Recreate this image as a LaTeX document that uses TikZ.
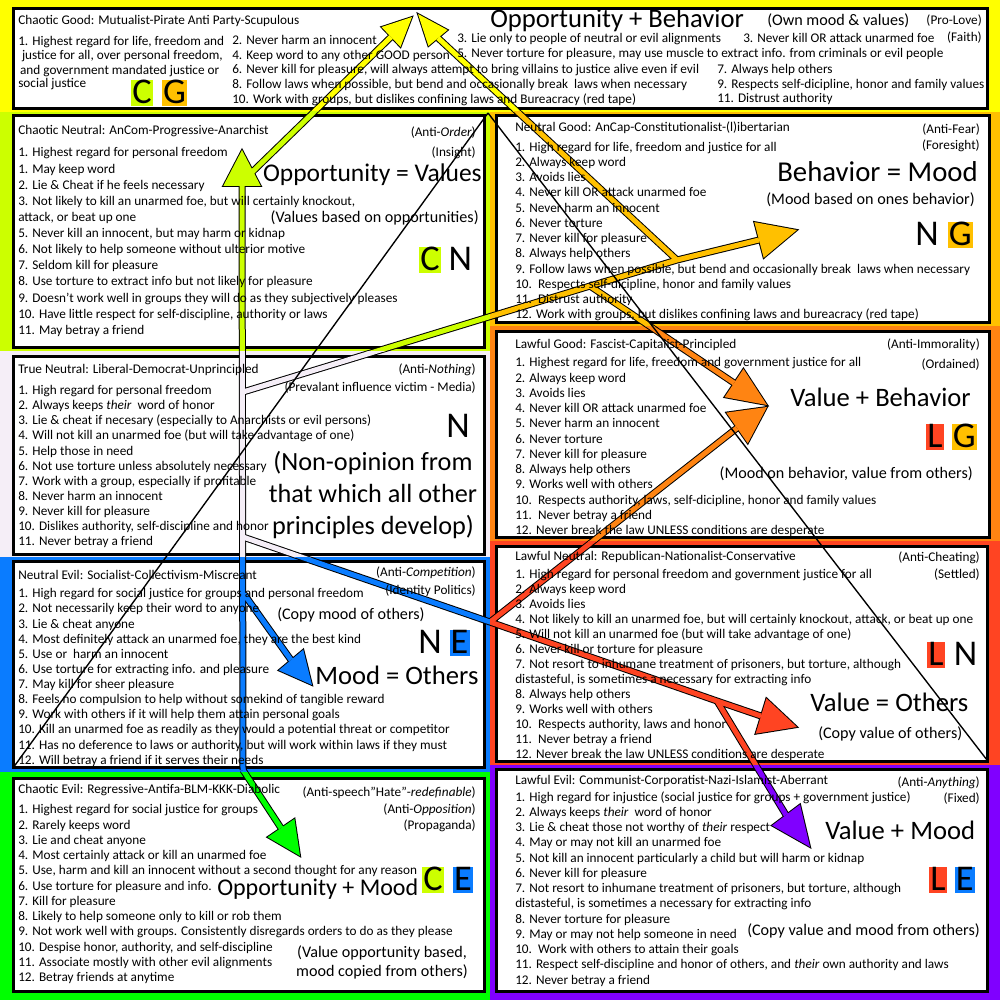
\documentclass[tikz,border=0pt]{standalone}
\usepackage{fontspec}
\setmainfont{Carlito}
\usetikzlibrary{positioning, calc}

\definecolor{cYel}{HTML}{FFFF00}
\definecolor{cLime}{HTML}{CCFF00}
\definecolor{cPale}{HTML}{F5EEF7}
\definecolor{cBlue}{HTML}{0A7CFF}
\definecolor{cGreen}{HTML}{00FF00}
\definecolor{cGold}{HTML}{FFC000}
\definecolor{cOrange}{HTML}{FF8412}
\definecolor{cRed}{HTML}{FF4422}
\definecolor{cPurple}{HTML}{8000FF}

\tikzset{
  card/.style={draw=black, line width=2.4pt, fill=white},
  itemtxt/.style={font=\fontsize{10.6}{12.2}\selectfont, align=left, inner sep=0pt},
  sidetxt/.style={font=\fontsize{10.6}{12.2}\selectfont, inner sep=0pt, anchor=east},
  bigtxt/.style={font=\fontsize{21.3}{25}\selectfont, inner sep=0pt},
  midtxt/.style={font=\fontsize{12.9}{15.2}\selectfont, inner sep=0pt},
  lettxt/.style={font=\fontsize{29}{30}\selectfont, inner sep=0pt, inner xsep=0.9pt, text height=19.5pt, text depth=2pt},
}

% arrow head: tip, base centre, half width, style
\newcommand{\headfill}[4]{\path[#4] (#1) -- ($(#2)!#3!90:(#1)$) -- ($(#2)!#3!-90:(#1)$) -- cycle;}

% all fat arrows, shaft style #1, head style #2
\newcommand{\arrowlayer}[2]{%
  \draw[#1] (spineBot) -- (cnBase);
  \draw[#1] (cgJ) -- (cgLBase);
  \draw[#1] (ngJa) -- (lgJa) -- (ngJb) -- (ngBase);
  \draw[#1] (ngJb) -- (cgRBase);
  \draw[#1] (lgJa) -- (lgUBase);
  \draw[#1] (lnJa) -- (lgJb) -- (leJ) -- (lnBase);
  \draw[#1] (lgJb) -- (lgLBase);
  \draw[#1] (leJ) -- (leBase);
  \draw[#1] (neJ) -- (neBase);
  \draw[#1] (spineBot) -- (ceBase);
  \headfill{cnTip}{cnBase}{15pt}{#2}
  \headfill{cgLTip}{cgLBase}{11pt}{#2}
  \headfill{cgRTip}{cgRBase}{10pt}{#2}
  \headfill{ngTip}{ngBase}{14.8pt}{#2}
  \headfill{lgUTip}{lgUBase}{13.6pt}{#2}
  \headfill{lgLTip}{lgLBase}{15pt}{#2}
  \headfill{lnTip}{lnBase}{14.8pt}{#2}
  \headfill{leTip}{leBase}{14pt}{#2}
  \headfill{neTip}{neBase}{12.8pt}{#2}
  \headfill{ceTip}{ceBase}{13pt}{#2}
}

\def\regionlist{0/0/1000/112/cYel, 0/112/490/351/cLime, 0/351/490/557/cPale,
  0/557/490/772/cBlue, 0/772/490/1000/cGreen, 490/112/1000/326/cGold,
  490/326/1000/541/cOrange, 490/541/1000/765/cRed, 490/765/1000/1000/cPurple}

\begin{document}
\begin{tikzpicture}[x=0.8pt, y=-0.8pt]
\useasboundingbox (0,0) rectangle (1000,1000);

% background bands
\foreach \xa/\ya/\xb/\yb/\col in \regionlist {
  \fill[\col] (\xa,\ya) rectangle (\xb,\yb);
}

% boxes
\draw[card] (13,9) rectangle (987,109);
\draw[card] (13,116) rectangle (484,347);
\draw[card] (13,356) rectangle (484,554);
\draw[card] (13,561) rectangle (484,767);
\draw[card] (13,778) rectangle (484,991);
\draw[card] (496,116) rectangle (989,322);
\draw[card] (496,331) rectangle (989,537);
\draw[card] (496,546) rectangle (987,761);
\draw[card] (496,769) rectangle (987,991);

% arrow points
\coordinate (spineBot) at (243,770);
\coordinate (cnBase) at (242,186);
\coordinate (cnTip) at (242,150);
\coordinate (cgJ) at (244,180);
\coordinate (cgLBase) at (391,37);
\coordinate (cgLTip) at (412,17);
\coordinate (ngJa) at (243,392);
\coordinate (lgJa) at (590,286);
\coordinate (ngJb) at (677,260);
\coordinate (ngBase) at (759,240);
\coordinate (ngTip) at (797,230);
\coordinate (cgRBase) at (438,38);
\coordinate (cgRTip) at (418,14);
\coordinate (lgUBase) at (734,383);
\coordinate (lgUTip) at (767,405);
\coordinate (lnJa) at (243,537);
\coordinate (lgJb) at (490,622);
\coordinate (leJ) at (717,701);
\coordinate (lnBase) at (761,716);
\coordinate (lnTip) at (797,727);
\coordinate (lgLBase) at (737,428);
\coordinate (lgLTip) at (767,407);
\coordinate (leBase) at (786,815);
\coordinate (leTip) at (810,847);
\coordinate (neJ) at (244,594);
\coordinate (neBase) at (291,660);
\coordinate (neTip) at (312,685);
\coordinate (ceBase) at (281,828);
\coordinate (ceTip) at (300,856);
\coordinate (apex) at (488,113);
\coordinate (lineL) at (13,768);
\coordinate (lineR) at (987,760);

% fat arrows: black outline, then each band's colour
\arrowlayer{line width=5.6pt, draw=black}{fill=black, draw=black, line width=1.6pt}
\foreach \xa/\ya/\xb/\yb/\col in \regionlist {
  \begin{scope}
    \clip (\xa,\ya) rectangle (\xb,\yb);
    \arrowlayer{line width=4pt, draw=\col}{fill=\col}
  \end{scope}
}

% thin diagonals
\draw[line width=1.1pt] (apex) -- (lineL);
\draw[line width=1.1pt] (apex) -- (lineR);

% Chaotic Good
\node[itemtxt, anchor=west] (cgT) at (18,21) {Chaotic Good: Mutualist-Pirate Anti Party-Scupulous};
\node[itemtxt, font=\fontsize{10.6}{11.5}\selectfont, anchor=north west] (cgA) at (18,36)
  {1. Highest regard for life, freedom and\\\hspace{3pt}justice for all, over personal freedom,\\\hspace{1.5pt}and government mandated justice or};
\node[itemtxt, anchor=west] (cgA2) at (18,84) {social justice};
\node[itemtxt, font=\fontsize{10.6}{11.8}\selectfont, anchor=north west] (cgB) at (232,35)
  {2. Never harm an innocent\\4. Keep word to any other GOOD person\\6. Never kill for pleasure, will always attempt to bring villains to justice alive even if evil\\8. Follow laws when possible, but bend and occasionally break\ \ laws when necessary\\10. Work with groups, but dislikes confining laws and Bureacracy (red tape)};
\node[itemtxt, font=\fontsize{10.6}{11.8}\selectfont, anchor=north west] (cgC) at (457,33)
  {3. Lie only to people of neutral or evil alignments\\5. Never torture for pleasure, may use muscle to extract info. from criminals or evil people};
\node[itemtxt, anchor=west] (cgD) at (743,38) {3. Never kill OR attack unarmed foe};
\node[itemtxt, font=\fontsize{10.6}{11.8}\selectfont, anchor=north west] (cgE) at (717,64)
  {7. Always help others\\9. Respects self-dicipline, honor and family values\\11. Distrust authority};
\node[bigtxt, anchor=west] (cgBig) at (490,20) {Opportunity + Behavior};
\node[midtxt, anchor=west] (cgMid) at (767,21) {(Own mood \& values)};
\node[sidetxt] (cgS1) at (982,21) {(Pro-Love)};
\node[sidetxt] (cgS2) at (982,38) {(Faith)};
\node[lettxt, fill=cLime] (cgC1) at (142,93) {C};
\node[lettxt, fill=cGold, right=7pt of cgC1] (cgG1) {G};

% Chaotic Neutral
\node[itemtxt, anchor=west] (cnT) at (18,131) {Chaotic Neutral: AnCom-Progressive-Anarchist};
\node[itemtxt, font=\fontsize{10.6}{12.9}\selectfont, below=8.4pt of cnT.south west, anchor=north west] (cnL)
  {1. Highest regard for personal freedom\\1. May keep word\\2. Lie \& Cheat if he feels necessary\\3. Not likely to kill an unarmed foe, but will certainly knockout,\\attack, or beat up one\\5. Never kill an innocent, but may harm or kidnap\\6. Not likely to help someone without ulterior motive\\7. Seldom kill for pleasure\\8. Use torture to extract info but not likely for pleasure\\9. Doesn't work well in groups they will do as they subjectively pleases\\10. Have little respect for self-discipline, authority or laws\\11. May betray a friend};
\node[sidetxt] (cnS1) at (476,133) {(Anti-\textit{Order})};
\node[sidetxt] (cnS2) at (476,153) {(Insight)};
\node[bigtxt, font=\fontsize{20.4}{24}\selectfont, anchor=east] (cnBig) at (482,175) {Opportunity = Values};
\node[midtxt, anchor=east] (cnMid) at (479,218) {(Values based on opportunities)};
\node[lettxt, fill=cLime] (cnC1) at (430,260) {C};
\node[lettxt, right=5pt of cnC1] (cnN1) {N};

% True Neutral
\node[itemtxt, anchor=west] (tnT) at (18,370) {True Neutral: Liberal-Democrat-Unprincipled};
\node[itemtxt, font=\fontsize{10.6}{12.1}\selectfont, below=7.4pt of tnT.south west, anchor=north west] (tnL)
  {1. High regard for personal freedom\\2. Always keeps \textit{their}\ \ word of honor\\3. Lie \& cheat if necesary (especially to Anarchists or evil persons)\\4. Will not kill an unarmed foe (but will take advantage of one)\\5. Help those in need\\6. Not use torture unless absolutely necessary\\7. Work with a group, especially if profitable\\8. Never harm an innocent\\9. Never kill for pleasure\\10. Dislikes authority, self-discipline and honor\\11. Never betray a friend};
\node[sidetxt] (tnS1) at (476,370) {(Anti-\textit{Nothing})};
\node[sidetxt] (tnS2) at (476,388) {(Prevalant influence victim - Media)};
\node[lettxt] (tnN1) at (458,427) {N};
\node[font=\fontsize{21}{25.6}\selectfont, align=center, inner sep=0pt] (tnMid) at (373,495)
  {(Non-opinion from\\that which all other\\principles develop)};

% Neutral Evil
\node[itemtxt, anchor=west] (neT) at (18,575) {Neutral Evil: Socialist-Collectivism-Miscreant};
\node[itemtxt, font=\fontsize{10.6}{12.1}\selectfont, below=6.8pt of neT.south west, anchor=north west] (neL)
  {1. High regard for social justice for groups and personal freedom\\2. Not necessarily keep their word to anyone\\3. Lie \& cheat anyone\\4. Most definitely attack an unarmed foe, they are the best kind\\5. Use or\ \ harm an innocent\\6. Use torture for extracting info. and pleasure\\7. May kill for sheer pleasure\\8. Feels no compulsion to help without somekind of tangible reward\\9. Work with others if it will help them attain personal goals\\10. Kill an unarmed foe as readily as they would a potential threat or competitor\\11. Has no deference to laws or authority, but will work within laws if they must\\12. Will betray a friend if it serves their needs};
\node[sidetxt] (neS1) at (476,573) {(Anti-\textit{Competition})};
\node[sidetxt] (neS2) at (476,591) {(Identity Politics)};
\node[midtxt, anchor=west] (neMid) at (277,615) {(Copy mood of others)};
\node[lettxt] (neN1) at (430,643) {N};
\node[lettxt, fill=cBlue, right=5pt of neN1] (neE1) {E};
\node[bigtxt, anchor=west] (neBig) at (315,675) {Mood = Others};

% Chaotic Evil
\node[itemtxt, anchor=west] (ceT) at (18,790) {Chaotic Evil: Regressive-Antifa-BLM-KKK-Diabolic};
\node[itemtxt, below=6.8pt of ceT.south west, anchor=north west] (ceL)
  {1. Highest regard for social justice for groups\\2. Rarely keeps word\\3. Lie and cheat anyone\\4. Most certainly attack or kill an unarmed foe\\5. Use, harm and kill an innocent without a second thought for any reason\\6. Use torture for pleasure and info.\\7. Kill for pleasure\\8. Likely to help someone only to kill or rob them\\9. Not work well with groups. Consistently disregards orders to do as they please\\10. Despise honor, authority, and self-discipline\\11. Associate mostly with other evil alignments\\12. Betray friends at anytime};
\node[sidetxt] (ceS1) at (476,793) {(Anti-speech\char34 Hate\char34 -\textit{redefinable})};
\node[sidetxt] (ceS2) at (476,810) {(Anti-\textit{Opposition})};
\node[sidetxt] (ceS3) at (476,826) {(Propaganda)};
\node[bigtxt, font=\fontsize{19.2}{23}\selectfont, anchor=west] (ceBig) at (217,889) {Opportunity + Mood};
\node[lettxt, fill=cLime] (ceC1) at (433,880) {C};
\node[lettxt, fill=cBlue, right=7pt of ceC1] (ceE1) {E};
\node[midtxt, align=center] (ceMid) at (382,962) {(Value opportunity based,\\mood copied from others)};

% Neutral Good
\node[itemtxt, anchor=west] (ngT) at (515,128) {Neutral Good: AnCap-Constitutionalist-(l)ibertarian};
\node[itemtxt, below=6pt of ngT.south west, anchor=north west] (ngL)
  {1. High regard for life, freedom and justice for all\\2. Always keep word\\3. Avoids lies\\4. Never kill OR attack unarmed foe\\5. Never harm an innocent\\6. Never torture\\7. Never kill for pleasure\\8. Always help others\\9. Follow laws when possible, but bend and occasionally break\ \ laws when necessary\\10.\ \ Respects self-dicipline, honor and family values\\11.\ \ Distrust authority\\12. Work with groups, but dislikes confining laws and bureacracy (red tape)};
\node[sidetxt] (ngS1) at (980,130) {(Anti-Fear)};
\node[sidetxt] (ngS2) at (980,146) {(Foresight)};
\node[bigtxt, font=\fontsize{23}{27}\selectfont, anchor=east] (ngBig) at (978,172) {Behavior = Mood};
\node[midtxt, anchor=east] (ngMid) at (975,200) {(Mood based on ones behavior)};
\node[lettxt] (ngN1) at (927,235) {N};
\node[lettxt, fill=cGold, right=6pt of ngN1] (ngG1) {G};

% Lawful Good
\node[itemtxt, anchor=west] (lgT) at (515,345) {Lawful Good: Fascist-Capitalist-Principled};
\node[itemtxt, below=5.2pt of lgT.south west, anchor=north west] (lgL)
  {1. Highest regard for life, freedom and government justice for all\\2. Always keep word\\3. Avoids lies\\4. Never kill OR attack unarmed foe\\5. Never harm an innocent\\6. Never torture\\7. Never kill for pleasure\\8. Always help others\\9. Works well with others\\10.\ \ Respects authority, laws, self-dicipline, honor and family values\\11.\ \ Never betray a friend\\12. Never break the law UNLESS conditions are desperate};
\node[sidetxt] (lgS1) at (980,345) {(Anti-Immorality)};
\node[sidetxt] (lgS2) at (980,365) {(Ordained)};
\node[bigtxt, anchor=west] (lgBig) at (790,397) {Value + Behavior};
\node[lettxt, fill=cRed] (lgL1) at (935,437) {L};
\node[lettxt, fill=cGold, right=6pt of lgL1] (lgG1) {G};
\node[midtxt, anchor=east] (lgMid) at (973,474) {(Mood on behavior, value from others)};

% Lawful Neutral
\node[itemtxt, anchor=west] (lnT) at (515,557) {Lawful Neutral: Republican-Nationalist-Conservative};
\node[itemtxt, font=\fontsize{10.6}{12}\selectfont, below=4.6pt of lnT.south west, anchor=north west] (lnL)
  {1. High regard for personal freedom and government justice for all\\2. Always keep word\\3. Avoids lies\\4. Not likely to kill an unarmed foe, but will certainly knockout, attack, or beat up one\\5. Will not kill an unarmed foe (but will take advantage of one)\\6. Never kill or torture for pleasure\\7. Not resort to inhumane treatment of prisoners, but torture, although\\distasteful, is sometimes a necessary for extracting info\\8. Always help others\\9. Works well with others\\10.\ \ Respects authority, laws and honor\\11.\ \ Never betray a friend\\12. Never break the law UNLESS conditions are desperate};
\node[sidetxt] (lnS1) at (980,558) {(Anti-Cheating)};
\node[sidetxt] (lnS2) at (980,575) {(Settled)};
\node[lettxt, fill=cRed] (lnL1) at (936,655) {L};
\node[lettxt, right=6pt of lnL1] (lnN1) {N};
\node[bigtxt, anchor=west] (lnBig) at (810,702) {Value = Others};
\node[midtxt, anchor=west] (lnMid) at (818,734) {(Copy value of others)};

% Lawful Evil
\node[itemtxt, anchor=west] (leT) at (515,781) {Lawful Evil: Communist-Corporatist-Nazi-Islamist-Aberrant};
\node[itemtxt, below=3.4pt of leT.south west, anchor=north west] (leL)
  {1. High regard for injustice (social justice for groups + government justice)\\2. Always keeps \textit{their}\ \ word of honor\\3. Lie \& cheat those not worthy of \textit{their} respect\\4. May or may not kill an unarmed foe\\5. Not kill an innocent particularly a child but will harm or kidnap\\6. Never kill for pleasure\\7. Not resort to inhumane treatment of prisoners, but torture, although\\distasteful, is sometimes a necessary for extracting info\\8. Never torture for pleasure\\9. May or may not help someone in need\\10.\ \ Work with others to attain their goals\\11. Respect self-discipline and honor of others, and \textit{their} own authority and laws\\12. Never betray a friend};
\node[sidetxt] (leS1) at (980,783) {(Anti-\textit{Anything})};
\node[sidetxt] (leS2) at (980,799) {(Fixed)};
\node[bigtxt, anchor=west] (leBig) at (825,830) {Value + Mood};
\node[lettxt, fill=cRed] (leL1) at (938,880) {L};
\node[lettxt, fill=cBlue, right=6pt of leL1] (leE1) {E};
\node[midtxt, anchor=east] (leMid) at (980,931) {(Copy value and mood from others)};
\end{tikzpicture}
\end{document}
